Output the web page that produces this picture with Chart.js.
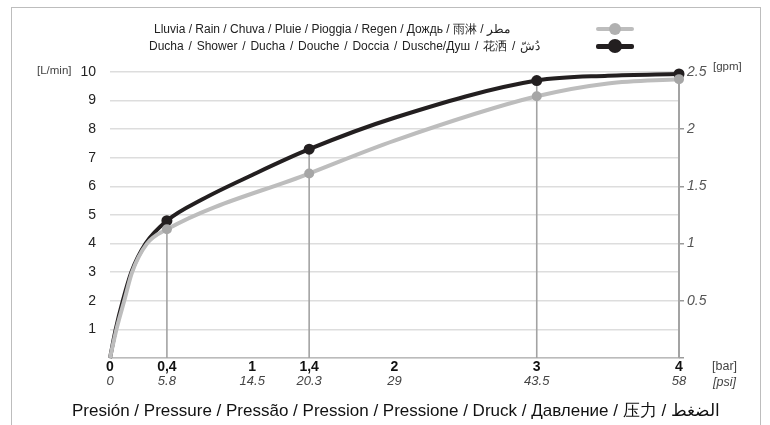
<!DOCTYPE html>
<html lang="es">

<head>
    <meta charset="UTF-8">
    <title>Caudal / Flow</title>
    <script src="https://cdn.jsdelivr.net/npm/chart.js"></script>
    <style>
        body { margin: 0; background: #fff; font-family: "Liberation Sans", Arial, sans-serif; }
        #wrap { position: relative; width: 770px; height: 425px; overflow: hidden; }
        #frame { position: absolute; left: 11px; top: 7px; width: 748px; height: 440px;
                 border: 1.5px solid #bdbdbd; }
        #chart { position: absolute; left: 0; top: 0; }
        .txt { position: absolute; white-space: nowrap; color: #222; }
        .leg { font-size: 12px; }
        .unit { font-size: 11.5px; color: #444; }
        .sym { position: absolute; left: 596px; width: 38px; }
        .sym .ln { position: absolute; left: 0; width: 38px; border-radius: 2px; }
        .sym .dot { position: absolute; border-radius: 50%; }
    </style>
</head>

<body>
    <div id="wrap">
        <div id="frame"></div>
        <canvas id="chart" width="770" height="425"></canvas>

        <!-- legend -->
        <div class="txt leg" style="left:154px; top:21px;">Lluvia / Rain / Chuva / Pluie / Pioggia / Regen / Дождь / 雨淋 / مطر</div>
        <div class="txt leg" style="left:149px; top:38px; word-spacing:1.5px;">Ducha / Shower / Ducha / Douche / Doccia / Dusche/Душ / 花洒 / دُشّ</div>
        <div class="sym" style="top:29px;">
            <div class="ln" style="top:-2px; height:4px; background:#bdbdbd;"></div>
            <div class="dot" style="left:13px; top:-6px; width:12px; height:12px; background:#b0b0b0;"></div>
        </div>
        <div class="sym" style="top:46px;">
            <div class="ln" style="top:-2.5px; height:5px; background:#231f20;"></div>
            <div class="dot" style="left:12px; top:-7px; width:14px; height:14px; background:#231f20;"></div>
        </div>

        <!-- axis units -->
        <div class="txt unit" style="left:37px; top:64px;">[L/min]</div>
        <div class="txt unit" style="left:713px; top:60px;">[gpm]</div>
        <div class="txt unit" style="left:712px; top:359px; font-size:12.5px;">[bar]</div>
        <div class="txt unit" style="left:713px; top:375px; font-size:12.5px; font-style:italic;">[psi]</div>
        <div class="txt" style="left:72px; top:399px; font-size:17px; color:#111;">Presión / Pressure / Pressão / Pression / Pressione / Druck / Давление / 压力 / الضغط</div>
    </div>

    <script>
        // x positions where the real measurements are (markers + droplines)
        const markerBar = [0.4, 1.4, 3, 4];

        // bottom axis ticks
        const barTicks = [0, 0.4, 1, 1.4, 2, 3, 4];
        const barLabels = ['0', '0,4', '1', '1,4', '2', '3', '4'];
        const psiLabels = ['0', '5.8', '14.5', '20.3', '29', '43.5', '58'];

        // Lluvia / Rain
        const rainBar = [0, 0.045, 0.1, 0.155, 0.26, 0.4, 1.4, 2, 3, 3.5, 4];
        const rainLpm = [0, 1, 2, 3, 4, 4.5, 6.45, 7.6, 9.15, 9.6, 9.75];

        // Ducha / Shower
        const showerBar = [0, 0.04, 0.09, 0.15, 0.25, 0.4, 0.65, 1, 1.4, 2, 3, 3.5, 4];
        const showerLpm = [0, 1, 2, 3, 4, 4.8, 5.55, 6.4, 7.3, 8.4, 9.7, 9.87, 9.93];

        // gpm ticks on the right
        const gpmTicks = [0, 0.5, 1, 1.5, 2, 2.5];

        function toPoints(xs, ys) {
            return xs.map((x, i) => ({ x: x, y: ys[i] }));
        }

        function markerRadius(r) {
            return ctx => (ctx.raw && markerBar.includes(ctx.raw.x)) ? r : 0;
        }

        // vertical lines from the top measurement down to the axis
        const dropLines = {
            id: 'dropLines',
            beforeDatasetsDraw(chart) {
                const c = chart.ctx;
                const xs = chart.scales.x, ys = chart.scales.y;
                c.save();
                c.strokeStyle = '#a3a3a3';
                markerBar.forEach(b => {
                    const top = Math.max(rainLpm[rainBar.indexOf(b)], showerLpm[showerBar.indexOf(b)]);
                    const px = xs.getPixelForValue(b);
                    c.lineWidth = b === 4 ? 2 : 1.6;
                    c.beginPath();
                    c.moveTo(px, ys.getPixelForValue(top));
                    c.lineTo(px, ys.getPixelForValue(0));
                    c.stroke();
                });
                c.restore();
            }
        };

        const ctx = document.getElementById('chart').getContext('2d');
        const chart = new Chart(ctx, {
            type: 'line',
            data: {
                datasets: [{
                    label: 'Lluvia',
                    data: toPoints(rainBar, rainLpm),
                    borderColor: '#bdbdbd',
                    backgroundColor: '#a6a6a6',
                    borderWidth: 4,
                    pointRadius: markerRadius(5),
                    pointBorderWidth: 0,
                    cubicInterpolationMode: 'monotone',
                    clip: false
                }, {
                    label: 'Ducha',
                    data: toPoints(showerBar, showerLpm),
                    borderColor: '#231f20',
                    backgroundColor: '#231f20',
                    borderWidth: 4,
                    pointRadius: markerRadius(5.5),
                    pointBorderWidth: 0,
                    cubicInterpolationMode: 'monotone',
                    clip: false
                }]
            },
            options: {
                responsive: false,
                animation: false,
                layout: { padding: { left: 0, right: 0, top: 72, bottom: 35 } },
                plugins: { legend: { display: false }, tooltip: { enabled: false } },
                scales: {
                    x: {
                        type: 'linear', position: 'bottom', min: 0, max: 4,
                        afterBuildTicks: s => { s.ticks = barTicks.map(v => ({ value: v })); },
                        afterFit: s => { s.height = 16; },
                        grid: { display: false, drawTicks: false },
                        border: { color: '#bbbbbb', width: 1.5 },
                        ticks: {
                            padding: 1, maxRotation: 0, autoSkip: false, color: '#111',
                            font: { family: 'Liberation Sans', size: 14, weight: 'bold' },
                            callback: (v, i) => barLabels[i]
                        }
                    },
                    x2: {
                        type: 'linear', position: 'bottom', min: 0, max: 4,
                        afterBuildTicks: s => { s.ticks = barTicks.map(v => ({ value: v })); },
                        afterFit: s => { s.height = 16; },
                        grid: { display: false, drawTicks: false },
                        border: { display: false },
                        ticks: {
                            padding: 0, maxRotation: 0, autoSkip: false, color: '#444',
                            font: { family: 'Liberation Sans', size: 13, style: 'italic' },
                            callback: (v, i) => psiLabels[i]
                        }
                    },
                    y: {
                        position: 'left', min: 0, max: 10,
                        afterFit: s => { s.width = 110; },
                        border: { display: false },
                        grid: { color: '#dddddd', lineWidth: 1.5, drawTicks: false },
                        ticks: {
                            stepSize: 1, padding: 14, color: '#222',
                            font: { family: 'Liberation Sans', size: 14 },
                            callback: v => v === 0 ? '' : v
                        }
                    },
                    y2: {
                        position: 'right', min: 0, max: 2.5,
                        afterBuildTicks: s => { s.ticks = gpmTicks.map(v => ({ value: v })); },
                        afterFit: s => { s.width = 91; },
                        border: { display: false },
                        grid: { drawOnChartArea: false, drawTicks: true, tickLength: 5, color: '#9a9a9a', lineWidth: 1.5 },
                        ticks: {
                            padding: 3, color: '#555',
                            font: { family: 'Liberation Sans', size: 14, style: 'italic' },
                            callback: v => v === 0 ? '' : v
                        }
                    }
                }
            },
            plugins: [dropLines]
        });
    </script>
</body>

</html>
